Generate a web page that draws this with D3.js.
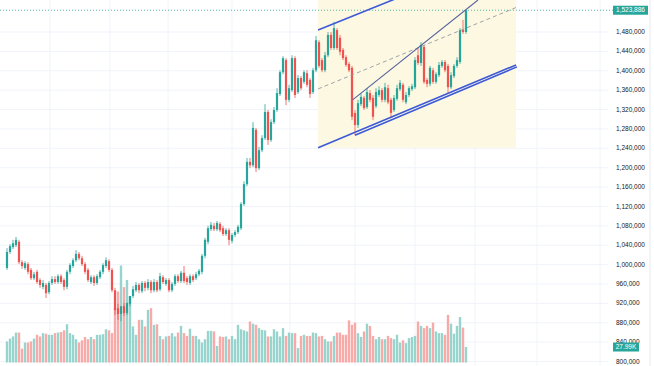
<!DOCTYPE html>
<html>
<head>
<meta charset="utf-8">
<script src="https://cdn.jsdelivr.net/npm/d3@7"></script>
<style>
  body { margin: 0; background: #fff; }
  svg { display: block; }
  .axis text { font-family: "Liberation Sans", Arial, sans-serif; font-size: 6.5px; fill: #131722; }
</style>
</head>
<body>
<div id="chart"></div>
<script>
var w = 654;
var h = 366;

// *** DATA (prices in thousands, volume in K) ***
var opens = [992,1025,1035,1039,1046,1004,992,1000,988,971,
  984,967,953,957,942,961,969,963,975,967,
  953,984,996,1008,1021,1012,1000,988,963,973,
  961,973,984,996,1006,988,946,909,897,913,
  899,918,934,946,957,944,961,951,963,946,
  963,948,973,959,967,946,959,975,965,982,
  971,961,975,971,979,984,1017,1046,1072,1079,
  1072,1083,1074,1062,1070,1048,1060,1066,1074,1124,
  1165,1211,1204,1277,1198,1235,1260,1314,1256,1293,
  1318,1351,1396,1421,1339,1359,1425,1355,1384,1376,
  1394,1380,1355,1400,1458,1421,1400,1431,1473,1446,
  1483,1467,1442,1427,1413,1405,1312,1287,1330,1343,
  1324,1353,1343,1326,1349,1359,1339,1363,1339,1318,
  1341,1361,1370,1334,1349,1361,1365,1431,1415,1448,
  1380,1372,1400,1376,1390,1409,1417,1409,1365,1388,
  1409,1417,1483,1479];
var highs = [1033,1041,1050,1056,1050,1008,1006,1004,992,984,
  988,971,967,961,965,975,975,979,979,971,
  988,1002,1012,1029,1025,1017,1004,992,977,977,
  979,988,1002,1014,1010,992,951,918,913,920,
  920,934,955,963,961,965,965,969,967,969,
  967,982,977,971,971,963,979,979,986,996,
  975,979,979,984,990,1021,1054,1079,1087,1085,
  1089,1087,1079,1074,1074,1064,1070,1081,1128,1171,
  1219,1219,1293,1281,1242,1266,1330,1318,1299,1324,
  1363,1400,1429,1425,1370,1431,1429,1390,1388,1400,
  1400,1384,1405,1471,1462,1425,1438,1479,1479,1500,
  1487,1473,1446,1431,1417,1409,1318,1339,1351,1347,
  1363,1359,1349,1363,1367,1363,1374,1370,1343,1349,
  1370,1380,1374,1355,1367,1372,1427,1446,1458,1452,
  1384,1409,1405,1396,1417,1421,1421,1413,1396,1413,
  1427,1487,1504,1525];
var lows = [988,1021,1031,1035,1000,990,988,979,967,967,
  959,951,948,930,938,957,959,959,959,946,
  948,979,992,1004,1008,996,979,963,959,955,
  957,969,979,992,984,942,895,885,882,893,
  895,913,930,942,940,940,944,946,940,942,
  942,944,959,955,942,942,955,961,961,961,
  957,957,963,967,975,979,1012,1041,1068,1068,
  1068,1066,1058,1058,1039,1043,1056,1062,1070,1120,
  1161,1198,1200,1190,1194,1231,1256,1246,1252,1289,
  1314,1347,1392,1328,1334,1355,1343,1351,1359,1372,
  1365,1343,1351,1396,1405,1396,1396,1427,1442,1442,
  1442,1431,1421,1407,1396,1297,1266,1281,1326,1318,
  1320,1334,1297,1322,1345,1334,1334,1330,1301,1314,
  1337,1357,1334,1330,1345,1357,1361,1411,1409,1372,
  1365,1367,1372,1372,1386,1405,1396,1353,1361,1384,
  1405,1413,1475,1475];
var closes = [1025,1037,1043,1050,1004,996,1002,984,971,979,
  963,957,961,940,961,969,963,975,963,953,
  984,998,1008,1021,1012,1000,984,967,973,961,
  975,984,998,1008,988,946,905,897,913,899,
  920,934,948,957,946,961,951,963,946,963,
  946,975,963,967,946,959,975,965,982,965,
  963,975,967,979,986,1017,1050,1074,1081,1072,
  1085,1070,1062,1070,1050,1060,1066,1077,1124,1165,
  1211,1204,1281,1198,1235,1260,1314,1256,1293,1318,
  1353,1396,1425,1339,1363,1425,1349,1384,1363,1396,
  1370,1351,1400,1462,1409,1400,1431,1473,1446,1487,
  1446,1438,1425,1411,1400,1304,1287,1332,1345,1322,
  1355,1339,1304,1355,1359,1339,1365,1334,1312,1343,
  1363,1374,1339,1349,1363,1367,1421,1415,1452,1376,
  1372,1405,1376,1392,1411,1417,1400,1365,1390,1409,
  1421,1483,1479,1523.886];
var volumes = [38,43,47,54,54,25,36,36,38,43,
  50,47,53,52,50,50,53,54,55,58,
  69,53,50,42,36,40,46,42,46,42,
  50,50,51,60,58,53,98,128,175,136,
  149,120,65,50,77,77,65,95,98,68,
  69,48,42,47,48,53,47,54,66,53,
  48,61,48,48,42,36,42,57,57,56,
  30,47,46,47,42,48,42,68,60,58,
  56,74,70,68,62,59,58,47,47,60,
  56,47,62,48,54,53,53,26,48,50,
  48,48,54,53,47,48,42,38,38,48,
  54,54,50,50,76,68,72,53,46,56,
  70,66,48,42,46,42,42,48,44,42,
  50,36,40,35,44,46,48,74,66,62,
  66,62,72,56,53,53,50,86,70,52,
  66,82,63,27.99];

// price axis ticks and month grid positions (bar index)
var priceTicks = d3.range(800, 1481, 40);
var monthIdx = [14.3, 34.3, 53.7, 75, 94.3, 116, 136, 156, 176.7, 197.7];

// drawings, as [bar index, price] pairs
var channelHigh = [[103.7, 1483], [169.7, 1648]];
var channelLow = [[103.7, 1240], [169.7, 1411]];
var channelMid = [[103.7, 1361.5], [169.7, 1529.5]];
var trendTop = [[115.2, 1339], [157, 1545]];
var trendBottom = [[116, 1266], [170, 1407]];
// **************************

var up = "#26a69a", down = "#ef5350",
    upVol = "#97d4ce", downVol = "#f7aaa8",
    plotRight = 608;

var svg = d3.select("#chart")
    .append("svg")
    .attr("width", w)
    .attr("height", h);

var x = d3.scaleLinear().domain([0, closes.length - 1]).range([7, 466]),
    y = d3.scaleLinear().domain([800, 1480]).range([361, 31.5]),
    yVol = d3.scaleLinear().domain([0, d3.max(volumes)]).range([362.5, 265.5]);

var candles = closes.map(function(c, i) {
  return {i: i, o: opens[i], h: highs[i], l: lows[i], c: c, v: volumes[i]};
});

// grid
svg.append("g")
    .attr("class", "grid")
    .call(d3.axisRight(y).tickValues(priceTicks).tickSize(plotRight).tickFormat(""))
    .call(function(g) { g.select(".domain").remove(); })
    .selectAll("line").attr("stroke", "#f0f3fa");

svg.append("g").selectAll("line")
    .data(monthIdx)
    .enter().append("line")
    .attr("x1", function(d) { return x(d); })
    .attr("x2", function(d) { return x(d); })
    .attr("y1", 0).attr("y2", h)
    .attr("stroke", "#f0f3fa");

svg.append("line")
    .attr("x1", 650).attr("x2", 650).attr("y1", 0).attr("y2", h)
    .attr("stroke", "#e6e8ee");

// channel background
svg.append("rect")
    .attr("x", x(channelLow[0][0]))
    .attr("y", 0)
    .attr("width", x(channelLow[1][0]) - x(channelLow[0][0]))
    .attr("height", y(channelLow[0][1]))
    .attr("fill", "#fdf8e2");

// volume
svg.append("g").selectAll("rect")
    .data(candles)
    .enter().append("rect")
    .attr("x", function(d) { return x(d.i) - 1.2; })
    .attr("y", function(d) { return yVol(d.v); })
    .attr("width", 2.4)
    .attr("height", function(d) { return yVol(0) - yVol(d.v); })
    .attr("fill", function(d) { return d.c >= d.o ? upVol : downVol; });

// last price line
svg.append("line")
    .attr("x1", 0).attr("x2", 613)
    .attr("y1", y(closes[closes.length - 1])).attr("y2", y(closes[closes.length - 1]))
    .attr("stroke", up)
    .attr("stroke-width", 0.8)
    .attr("stroke-dasharray", "1,2");

// candles
var cg = svg.append("g");
cg.selectAll(".wick")
    .data(candles)
    .enter().append("line")
    .attr("class", "wick")
    .attr("x1", function(d) { return x(d.i); })
    .attr("x2", function(d) { return x(d.i); })
    .attr("y1", function(d) { return y(d.h); })
    .attr("y2", function(d) { return y(d.l); })
    .attr("stroke", function(d) { return d.c >= d.o ? up : down; })
    .attr("stroke-width", 0.8);

cg.selectAll(".body")
    .data(candles)
    .enter().append("rect")
    .attr("class", "body")
    .attr("x", function(d) { return x(d.i) - 1.1; })
    .attr("y", function(d) { return y(Math.max(d.o, d.c)); })
    .attr("width", 2.2)
    .attr("height", function(d) { return Math.max(0.8, Math.abs(y(d.o) - y(d.c))); })
    .attr("fill", function(d) { return d.c >= d.o ? up : down; });

// drawings
var line = d3.line()
    .x(function(d) { return x(d[0]); })
    .y(function(d) { return y(d[1]); });

svg.append("path").datum(channelMid)
    .attr("d", line).attr("fill", "none")
    .attr("stroke", "#9598a1").attr("stroke-width", 0.9)
    .attr("stroke-dasharray", "4,3");

[channelHigh, channelLow, trendBottom].forEach(function(seg) {
  svg.append("path").datum(seg)
      .attr("d", line).attr("fill", "none")
      .attr("stroke", "#3d5ad6").attr("stroke-width", 1.6);
});

svg.append("path").datum(trendTop)
    .attr("d", line).attr("fill", "none")
    .attr("stroke", "#55629e").attr("stroke-width", 1.1);

// price axis
var fmt = function(d) { return d3.format(",")(Math.round(d * 1000)); };
svg.append("g")
    .attr("class", "axis")
    .attr("transform", "translate(613,0)")
    .call(d3.axisRight(y).tickValues(priceTicks).tickSize(0).tickPadding(3).tickFormat(fmt))
    .call(function(g) { g.select(".domain").remove(); });

// last price and volume labels
var lastY = y(closes[closes.length - 1]);
svg.append("rect")
    .attr("x", 613).attr("y", lastY - 4.5)
    .attr("width", 35).attr("height", 9)
    .attr("fill", up);
svg.append("text")
    .attr("x", 630.5).attr("y", lastY + 2.2)
    .attr("text-anchor", "middle")
    .style("font-family", "Liberation Sans, Arial, sans-serif")
    .style("font-size", "6.5px")
    .attr("fill", "#fff")
    .text(fmt(closes[closes.length - 1]));

var lastV = volumes[volumes.length - 1];
svg.append("rect")
    .attr("x", 613).attr("y", 342.5)
    .attr("width", 26).attr("height", 9)
    .attr("fill", up);
svg.append("text")
    .attr("x", 626).attr("y", 349.2)
    .attr("text-anchor", "middle")
    .style("font-family", "Liberation Sans, Arial, sans-serif")
    .style("font-size", "6.5px")
    .attr("fill", "#fff")
    .text(d3.format(".2f")(lastV) + "K");
</script>
</body>
</html>
